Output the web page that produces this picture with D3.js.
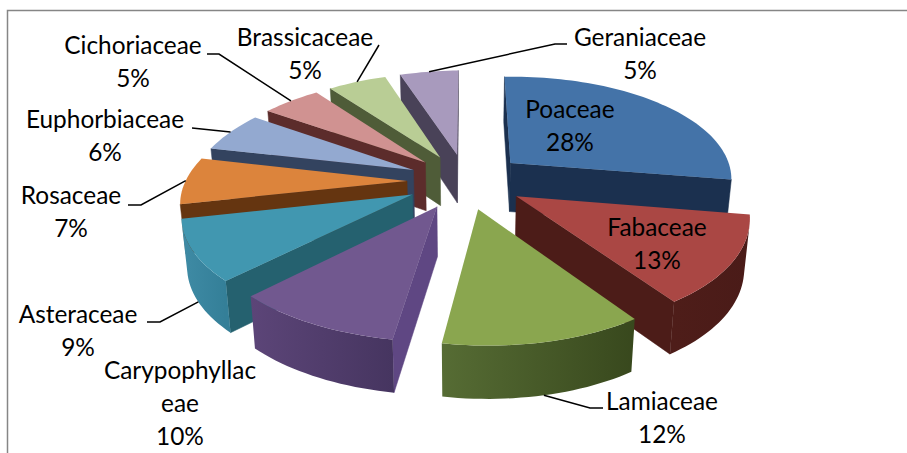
<!DOCTYPE html>
<html lang="en">
<head>
<meta charset="UTF-8">
<title>Plant families</title>
<script src="https://d3js.org/d3.v7.min.js"></script>
<style>
  html, body { margin: 0; padding: 0; background: #fff; }
  svg { display: block; }
  text { font-family: Lato, "Open Sans", sans-serif; font-size: 24.4px; fill: #000; text-anchor: middle; }
</style>
</head>
<body>
<div id="chart"></div>
<script>
// values, clockwise from 12 o'clock
const families = ["Poaceae", "Fabaceae", "Lamiaceae", "Carypophyllaceae", "Asteraceae", "Rosaceae", "Euphorbiaceae", "Cichoriaceae", "Brassicaceae", "Geraniaceae"];
const shares = [28, 13, 12, 10, 9, 7, 6, 5, 5, 5];

// colours per slice
const topColors = ["#4473a8", "#aa4744", "#8aa64f", "#71588f", "#4197b0", "#dc843c", "#93a9d0", "#d09291", "#b9cd95", "#a89abd"];
const cutColors = ["#1b304f", "#4c1c18", "#3e4f21", "#5f4783", "#25616f", "#653510", "#33435f", "#5c2c2b", "#4f5c38", "#494258"];
const rimStart = ["#1f3859", "#4a1b18", "#38481d", "#463560", "#347f98", "#6a3a12", "#33435f", "#5c2c2b", "#4f5c38", "#494258"];
const rimEnd = ["#1b304f", "#4e1d19", "#566c34", "#5c4578", "#3f8ba5", "#7a4417", "#33435f", "#5c2c2b", "#4f5c38", "#494258"];

// label layout: centre x, first baseline y
const labelX = [570, 657, 662, 180, 78, 71, 105, 133, 305, 640];
const labelY = [118, 236, 410, 379, 323, 204, 128, 54, 46, 46];
const labelLines = [["Poaceae"], ["Fabaceae"], ["Lamiaceae"], ["Carypophyllac", "eae"], ["Asteraceae"], ["Rosaceae"], ["Euphorbiaceae"], ["Cichoriaceae"], ["Brassicaceae"], ["Geraniaceae"]];
// leader knots, slice end is worked out from the pie (null = no leader)
const leaderKnots = [null, null, [[590, 408], [603, 408]], null, [[160, 322], [147, 322]], [[141, 205], [128, 205]], [[192, 128]], [[219, 54], [207, 54]], [[379, 45]], [[555, 44], [567, 44]]];

const width = 907, height = 453;
const cx = 466, cy = 181;       // pie centre on screen
const scaleX = 223, scaleY = 105; // ground unit in pixels
const persp = 0.156;            // perspective strength
const explode = 0.265;          // how far each slice is pulled out
const depth = 49;               // wall height
const lean = 9;                 // front of the pie drifts a bit to the right
const tilt = 3;                 // right side sits a bit higher than the left
const taper = 0.02;             // walls narrow a little going down

const svg = d3.select("#chart").append("svg")
  .attr("width", width)
  .attr("height", height);
const defs = svg.append("defs");

// ground coords -> screen coords, z = 1 is the bottom of the wall
function project(gx, gy, z) {
  const k = 1 / (1 - persp * gy);
  const x = scaleX * gx * k + lean * Math.pow(Math.max(0, gy), 2);
  return [
    cx + x * (1 - taper * z),
    cy + scaleY * gy * k - tilt * gx * k + z * depth * (1 + 0.07 * gy)
  ];
}

const pie = d3.pie().sort(null).value(d => d);
const arcs = pie(shares);

const slices = arcs.map(function (a, i) {
  const mid = (a.startAngle + a.endAngle) / 2;
  const ax = explode * Math.sin(mid), ay = -explode * Math.cos(mid);
  return { i: i, start: a.startAngle, end: a.endAngle, mid: mid, ax: ax, ay: ay };
});

function rimPoint(s, angle, z) {
  return project(s.ax + Math.sin(angle), s.ay - Math.cos(angle), z);
}

const line = d3.line();
function poly(pts) { return line(pts) + "Z"; }

// back slices first so the front ones sit on top
const order = slices.slice().sort((p, q) => d3.ascending(p.ay, q.ay));

order.forEach(function (s) {
  const g = svg.append("g");
  const apexTop = project(s.ax, s.ay, 0), apexBot = project(s.ax, s.ay, 1);
  const steps = Math.ceil((s.end - s.start) / 0.03);
  const angles = d3.range(steps + 1).map(j => s.start + (s.end - s.start) * j / steps);

  // cut faces, only the ones turned to the viewer (d3.polygonArea > 0 with this winding)
  const faces = [
    [apexTop, rimPoint(s, s.start, 0), rimPoint(s, s.start, 1), apexBot],
    [rimPoint(s, s.end, 0), apexTop, apexBot, rimPoint(s, s.end, 1)]
  ];
  faces.forEach(function (f) {
    if (d3.polygonArea(f) > 0) {
      g.append("path").attr("d", poly(f)).attr("fill", cutColors[s.i]).attr("stroke", cutColors[s.i]).attr("stroke-width", 0.5);
    }
  });

  // outer wall: keep the part of the rim turned to the viewer, one shape with a gradient
  const seen = [];
  for (let j = 0; j < steps; j++) {
    const q = [rimPoint(s, angles[j], 0), rimPoint(s, angles[j + 1], 0), rimPoint(s, angles[j + 1], 1), rimPoint(s, angles[j], 1)];
    if (d3.polygonArea(q) > 0) {
      if (!seen.length) seen.push(angles[j]);
      seen.push(angles[j + 1]);
    }
  }
  if (seen.length) {
    const topEdge = seen.map(t => rimPoint(s, t, 0));
    const botEdge = seen.map(t => rimPoint(s, t, 1)).reverse();
    const grad = defs.append("linearGradient")
      .attr("id", "rim" + s.i)
      .attr("gradientUnits", "userSpaceOnUse")
      .attr("x1", topEdge[0][0]).attr("y1", 0)
      .attr("x2", topEdge[topEdge.length - 1][0]).attr("y2", 0);
    grad.append("stop").attr("offset", 0).attr("stop-color", rimStart[s.i]);
    grad.append("stop").attr("offset", 1).attr("stop-color", rimEnd[s.i]);
    g.append("path").attr("d", poly(topEdge.concat(botEdge))).attr("fill", "url(#rim" + s.i + ")");
  }

  // top face
  const top = [apexTop].concat(angles.map(t => rimPoint(s, t, 0)));
  g.append("path").attr("d", poly(top)).attr("fill", topColors[s.i]);
});

// frame, open on the right and bottom
svg.append("path")
  .attr("d", line([[7.5, height], [7.5, 10.5], [width, 10.5]]))
  .attr("fill", "none")
  .attr("stroke", "#868686")
  .attr("stroke-width", 1.5);

// leader lines
slices.forEach(function (s) {
  const knots = leaderKnots[s.i];
  if (!knots) return;
  const onWall = -Math.cos(s.mid) > 0.4;
  const from = rimPoint(s, s.mid, onWall ? 1 : 0);
  svg.append("path")
    .attr("d", line([from].concat(knots)))
    .attr("fill", "none")
    .attr("stroke", "#000")
    .attr("stroke-width", 1.5);
});

// labels
families.forEach(function (name, i) {
  const lines = labelLines[i].concat([shares[i] + "%"]);
  const t = svg.append("text").attr("y", labelY[i]);
  lines.forEach(function (l, n) {
    t.append("tspan").attr("x", labelX[i]).attr("dy", n === 0 ? 0 : 33).text(l);
  });
});
</script>
</body>
</html>
